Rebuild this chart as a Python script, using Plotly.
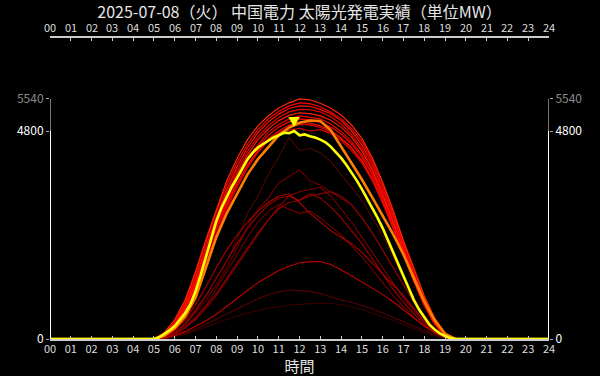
import plotly.graph_objects as go

TITLE = "2025-07-08（火） 中国電力 太陽光発電実績（単位MW）"
HOUR_LABELS = [f"{h:02d}" for h in range(25)]
Y_TICKS = [0, 4800, 5540]

# half-hour grid 05:00 .. 19:30 (values are 0 outside)
HALF_HOURS = [5 + 0.5 * i for i in range(30)]
# quarter-hour grid for today's line
QUARTER_HOURS = [5 + 0.25 * i for i in range(59)]

today = [0, 40, 110, 200, 300, 440, 600, 800, 1100, 1480, 1900, 2320, 2720, 3030, 3280, 3520,
         3720, 3940, 4150, 4300, 4420, 4500, 4580, 4650, 4700, 4760, 4750, 4800, 4700, 4720,
         4680, 4650, 4600, 4540, 4440, 4320, 4180, 4020, 3850, 3660, 3460, 3250, 3040, 2800,
         2560, 2290, 2000, 1720, 1450, 1170, 900, 680, 490, 330, 220, 130, 70, 20, 0]

yesterday = [0, 80, 250, 520, 950, 1650, 2350, 2900, 3350, 3800, 4150, 4430, 4700, 4880, 4990,
             5040, 5030, 4820, 4450, 4060, 3680, 3270, 2850, 2420, 1950, 1420, 870, 430, 120, 0]

clear_1 = [0, 150, 450, 900, 1550, 2300, 3000, 3650, 4170, 4600, 4920, 5150, 5330, 5450, 5540,
           5520, 5440, 5330, 5170, 4940, 4630, 4180, 3620, 2980, 2270, 1620, 1000, 480, 140, 0]
clear_2 = [0, 120, 400, 850, 1480, 2220, 2930, 3560, 4080, 4500, 4830, 5080, 5250, 5380, 5450,
           5430, 5360, 5240, 5080, 4860, 4560, 4120, 3560, 2920, 2220, 1560, 960, 450, 120, 0]
clear_3 = [0, 110, 380, 800, 1400, 2120, 2820, 3450, 3980, 4420, 4760, 5010, 5190, 5320, 5380,
           5370, 5300, 5200, 5040, 4800, 4480, 4040, 3480, 2850, 2160, 1500, 900, 420, 110, 0]
clear_4 = [0, 100, 350, 760, 1340, 2050, 2750, 3380, 3900, 4330, 4670, 4920, 5110, 5240, 5300,
           5290, 5240, 5130, 4960, 4720, 4400, 3960, 3400, 2780, 2100, 1460, 870, 400, 100, 0]
clear_5 = [0, 90, 330, 720, 1280, 1980, 2680, 3300, 3820, 4250, 4600, 4850, 5040, 5160, 5220,
           5200, 5150, 5050, 4890, 4660, 4340, 3900, 3340, 2720, 2050, 1420, 840, 380, 90, 0]
clear_6 = [0, 100, 360, 740, 1300, 1950, 2600, 3200, 3750, 4180, 4480, 4780, 4950, 5080, 5150,
           5110, 5080, 4960, 4790, 4560, 4250, 3830, 3290, 2680, 2020, 1400, 820, 370, 90, 0]
clear_7 = [0, 80, 300, 680, 1220, 1880, 2560, 3150, 3680, 4100, 4430, 4700, 4890, 5010, 5080,
           5060, 5000, 4890, 4730, 4500, 4200, 3780, 3240, 2640, 1990, 1380, 800, 360, 80, 0]
clear_8 = [0, 90, 330, 700, 1250, 1900, 2550, 3100, 3600, 4020, 4350, 4620, 4800, 4930, 5000,
           4980, 4920, 4810, 4640, 4420, 4120, 3700, 3180, 2590, 1950, 1350, 790, 350, 80, 0]
clear_9 = [0, 60, 250, 600, 1100, 1750, 2400, 3000, 3500, 3950, 4300, 4570, 4760, 4880, 4950,
           4940, 4880, 4780, 4620, 4400, 4100, 3690, 3170, 2580, 1940, 1340, 780, 340, 70, 0]
clear_10 = [0, 70, 280, 640, 1150, 1800, 2450, 3050, 3550, 4000, 4330, 4580, 4730, 4820, 4860,
            4800, 4830, 4740, 4580, 4350, 4060, 3650, 3130, 2550, 1920, 1320, 770, 340, 70, 0]

cloudy_1 = [0, 60, 200, 400, 700, 1000, 1400, 1800, 2300, 2900, 3300, 3800, 4200, 4650, 4350,
            4400, 4300, 4100, 3800, 3500, 3200, 2800, 2400, 1900, 1400, 950, 550, 250, 60, 0]
cloudy_2 = [0, 40, 150, 330, 600, 900, 1250, 1650, 2100, 2600, 3000, 3250, 3600, 3750, 3900,
            3650, 3550, 3400, 3250, 3100, 2800, 2450, 2050, 1650, 1250, 850, 500, 220, 50, 0]
cloudy_3 = [0, 50, 200, 450, 800, 1200, 1650, 2050, 2400, 2700, 2950, 3150, 3300, 3350, 3150,
            2900, 2700, 2500, 2350, 2200, 2000, 1750, 1500, 1250, 1000, 700, 420, 200, 50, 0]
cloudy_4 = [0, 30, 120, 280, 500, 750, 1050, 1400, 1750, 2100, 2450, 2750, 3000, 3150, 3200,
            3300, 3350, 3400, 3300, 3100, 2800, 2450, 2050, 1650, 1250, 850, 500, 220, 50, 0]
cloudy_5 = [0, 40, 150, 350, 650, 1000, 1400, 1800, 2200, 2550, 2850, 3100, 3250, 3300, 3200,
            3350, 3250, 3050, 2800, 2500, 2200, 1850, 1500, 1150, 850, 580, 340, 150, 40, 0]
cloudy_6 = [0, 20, 100, 250, 450, 700, 1000, 1350, 1700, 2050, 2400, 2750, 3050, 3300, 3400,
            3450, 3500, 3300, 3000, 2700, 2350, 2000, 1650, 1300, 950, 650, 380, 170, 40, 0]
cloudy_7 = [0, 20, 80, 170, 290, 420, 570, 760, 950, 1120, 1300, 1450, 1580, 1680, 1760,
            1780, 1790, 1720, 1600, 1460, 1320, 1180, 1030, 860, 680, 480, 300, 150, 40, 0]
cloudy_8 = [0, 20, 70, 140, 230, 340, 460, 580, 700, 820, 930, 1020, 1090, 1130, 1120,
            1100, 1050, 980, 900, 850, 780, 700, 600, 500, 400, 290, 190, 100, 30, 0]
cloudy_9 = [0, 10, 50, 110, 190, 280, 370, 450, 530, 600, 660, 710, 750, 780, 800,
            820, 830, 820, 790, 740, 680, 600, 510, 420, 330, 240, 150, 80, 20, 0]
cloudy_10 = [0, 30, 110, 260, 480, 780, 1150, 1550, 1950, 2350, 2700, 2950, 3100, 3000, 2900,
             2950, 2800, 2600, 2400, 2150, 1900, 1600, 1300, 1000, 750, 500, 300, 140, 30, 0]

cloudy_series = [
    (cloudy_9, "#3a0000"), (cloudy_8, "#5a0000"), (cloudy_1, "#4a0800"),
    (cloudy_2, "#6a0000"), (cloudy_10, "#700000"), (cloudy_6, "#7a0000"),
    (cloudy_4, "#900000"), (cloudy_5, "#a00000"), (cloudy_3, "#b00000"),
    (cloudy_7, "#c00000"),
]
clear_series = [
    (clear_10, "#d00000"), (clear_9, "#e00000"), (clear_8, "#ee1000"),
    (clear_7, "#ff0000"), (clear_6, "#f00000"), (clear_5, "#ff2000"),
    (clear_4, "#e80000"), (clear_3, "#ff1000"), (clear_2, "#ff0000"),
    (clear_1, "#ff2800"),
]

fig = go.Figure()

def day_line(hours, vals, color, width):
    fig.add_trace(go.Scatter(
        x=[0.0] + hours + [24.0], y=[0] + vals + [0], mode="lines",
        line=dict(color=color, width=width), hoverinfo="skip", showlegend=False))

for vals, col in cloudy_series:
    day_line(HALF_HOURS, vals, col, 1.1)
for vals, col in clear_series:
    day_line(HALF_HOURS, vals, col, 1.2)
day_line(HALF_HOURS, yesterday, "#ff8000", 2.6)
day_line(QUARTER_HOURS, today, "#ffff00", 2.6)

# helper trace for top / right axes
fig.add_trace(go.Scatter(x=[0, 24], y=[0, 0], mode="lines", opacity=0,
                         xaxis="x2", yaxis="y2", hoverinfo="skip", showlegend=False))

# peak marker of today
imax = max(range(len(today)), key=lambda i: today[i])
fig.add_annotation(x=QUARTER_HOURS[imax], y=today[imax], text="▼", showarrow=False,
                   yanchor="bottom", yshift=0, font=dict(color="#ffff00", size=12))

# top hour labels
for h, lab in enumerate(HOUR_LABELS):
    fig.add_annotation(x=h, xref="x", y=1, yref="paper", text=lab, showarrow=False,
                       yanchor="bottom", yshift=1, xanchor="center",
                       font=dict(size=11, color="#dddddd", family="Noto Sans CJK JP"))

Y_MAX = 6946
tick_text = ["0", "4800", "<span style='color:#8a8a8a'>5540</span>"]

# vertical axis lines: white to 4800, grey to 5540
for xv in (0, 24):
    fig.add_shape(type="line", xref="x", yref="y", x0=xv, x1=xv, y0=0, y1=Y_TICKS[1],
                  line=dict(color="#ffffff", width=2))
    fig.add_shape(type="line", xref="x", yref="y", x0=xv, x1=xv, y0=Y_TICKS[1], y1=Y_TICKS[2],
                  line=dict(color="#777777", width=2))

xcommon = dict(range=[0, 24], tickmode="array", tickvals=list(range(25)), ticktext=HOUR_LABELS,
               showline=True, linecolor="#cccccc", linewidth=2, ticks="inside", ticklen=3,
               tickcolor="#cccccc", showgrid=False, zeroline=False, automargin=False,
               tickangle=0,
               tickfont=dict(size=11, color="#dddddd", family="Noto Sans CJK JP"))
ycommon = dict(range=[0, Y_MAX], tickmode="array", tickvals=Y_TICKS, showline=False,
               ticks="outside", ticklen=3, tickcolor="#aaaaaa", showgrid=False, zeroline=False,
               automargin=False, ticktext=tick_text,
               tickfont=dict(size=12, color="#ffffff", family="Noto Sans CJK JP"))

fig.update_layout(
    width=600, height=376,
    paper_bgcolor="#000000", plot_bgcolor="#000000",
    margin=dict(l=50, r=51, t=38, b=37, autoexpand=False),
    font=dict(family="Noto Sans CJK JP", color="#dddddd"),
    title=dict(text=TITLE, x=0.4992, xanchor="center", y=0.968, yanchor="middle",
               yref="container", font=dict(size=16, color="#e6e6e6")),
    xaxis=dict(**xcommon, side="bottom", ticklabelstandoff=-1,
               title=dict(text="時間", standoff=0, font=dict(size=15, color="#e6e6e6"))),
    xaxis2=dict(**xcommon, side="top", overlaying="x", showticklabels=False),
    yaxis=dict(**ycommon, side="left"),
    yaxis2=dict(**ycommon, side="right", overlaying="y"),
)

fig.write_html("out.html", config={"displayModeBar": False},
               post_script="document.body.style.margin='0';document.body.style.background='#000';")
